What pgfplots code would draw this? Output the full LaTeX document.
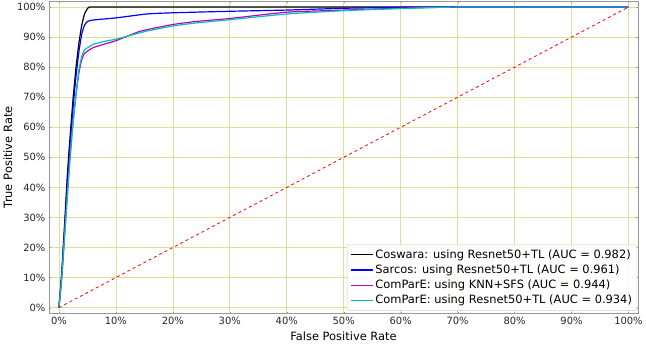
\documentclass[border=0pt]{standalone}
\usepackage{pgfplots}
\pgfplotsset{compat=1.18}
\usepackage{fontspec}
\setmainfont{DejaVu Sans}
\definecolor{gridc}{RGB}{222,222,150}
\definecolor{mcol}{RGB}{191,0,191}
\definecolor{ccol}{RGB}{0,191,191}
\definecolor{bcol}{RGB}{0,0,255}
\begin{document}
\begin{tikzpicture}
\begin{axis}[
  scale only axis,
  width=590bp, height=313bp,
  xmin=-1.75, xmax=101.7, ymin=-2, ymax=102,
  xtick={0,10,...,100}, ytick={0,10,...,100},
  xticklabel={\pgfmathprintnumber{\tick}\%},
  yticklabel={\pgfmathprintnumber{\tick}\%},
  /pgf/number format/assume math mode=true,
  tick label style={font=\fontsize{10}{12}\selectfont, color=black!85},
  label style={font=\fontsize{11.5}{13}\selectfont},
  xlabel={False Positive Rate}, ylabel={True Positive Rate},
  xlabel style={yshift=0pt}, ylabel style={yshift=-2pt},
  grid=major,
  grid style={gridc, line width=0.6pt},
  axis line style={gray!80, line width=0.8pt},
  major tick length=2pt,
  tick style={gray!80},
  legend style={at={(rel axis cs:1,0)}, anchor=south east, xshift=-1bp, yshift=3bp,
    draw=gray!40, rounded corners=2pt, fill=white, fill opacity=0.85, text opacity=1,
    font=\fontsize{11.5}{13}\selectfont, row sep=1pt, inner sep=3pt},
  legend cell align=left,
  legend image post style={xscale=1.3},
]
\addplot[color=black, line width=1.2pt] coordinates {
(0,0)(0.5,12)(1,28)(1.5,45)(2,58)(2.5,70)(3,80)(3.5,88)(4,94)(4.5,97.8)(5,99.5)(5.3,100)(100,100)};
\addlegendentry{Coswara: using Resnet50+TL (AUC = 0.982)}
\addplot[color=bcol, line width=1.2pt, smooth, tension=0.3] coordinates {
(0,0)(0.5,11)(1,26)(1.5,42)(2,55)(2.5,67)(3,77)(3.5,85)(4,91)(4.5,94)(5,95.2)(6,95.7)(10,96.4)(15.4,97.7)(20,98.1)(30,98.6)(40,99.0)(50,99.6)(60,99.9)(70,100)(100,100)};
\addlegendentry{Sarcos: using Resnet50+TL (AUC = 0.961)}
\addplot[color=mcol, line width=1.2pt, smooth, tension=0.3] coordinates {
(0,0)(0.5,10)(1,24)(1.5,38)(2,51)(2.5,62)(3,71)(3.5,78)(4,82.5)(4.5,84.6)(5.3,85.7)(6,86.5)(8,87.7)(10,88.8)(12,90.3)(14,91.8)(16,92.7)(20,94.2)(24,95.2)(30,96.2)(40,98.3)(50,99.0)(60,99.6)(70,100)(100,100)};
\addlegendentry{ComParE: using KNN+SFS (AUC = 0.944)}
\addplot[color=ccol, line width=1.2pt, smooth, tension=0.3] coordinates {
(0,0)(0.5,10)(1,24)(1.5,38)(2,51)(2.5,62)(3,71)(3.5,79)(4,83.5)(4.5,85.8)(5.3,86.8)(6,87.6)(8,88.6)(10,89.3)(12,90.3)(15.4,92.0)(20,93.7)(24,94.7)(30,95.8)(40,97.7)(50,98.8)(60,99.5)(70,100)(100,100)};
\addlegendentry{ComParE: using Resnet50+TL (AUC = 0.934)}
\addplot[red, dashed, line width=0.8pt, forget plot] coordinates {(0,0)(100,100)};
\end{axis}
\end{tikzpicture}
\end{document}
